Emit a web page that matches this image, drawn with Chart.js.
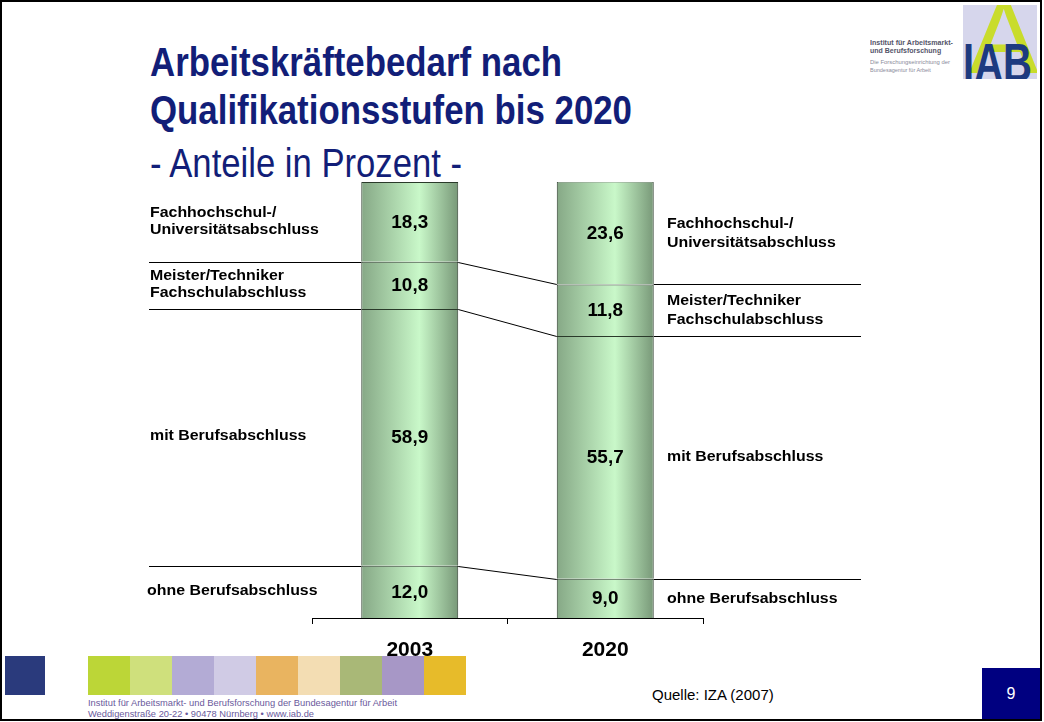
<!DOCTYPE html>
<html><head><meta charset="utf-8">
<script src="https://cdn.jsdelivr.net/npm/chart.js@4.4.1/dist/chart.umd.min.js"></script>
<style>
html,body{margin:0;padding:0;background:#fff;}
body{width:1044px;height:722px;position:relative;overflow:hidden;font-family:"Liberation Sans",Arial,sans-serif;}
.frame{position:absolute;left:0;top:0;width:1042px;height:721px;box-sizing:border-box;border:2px solid #000;z-index:5;pointer-events:none;}
.t{position:absolute;left:150px;white-space:nowrap;color:#121e78;transform-origin:0 0;font-size:40px;line-height:40px;}
.tb{font-family:"Liberation Sans Narrow","Liberation Sans",Arial,sans-serif;font-weight:bold;}
.sq{position:absolute;top:656px;height:39px;width:42px;}
.ft{position:absolute;left:88px;font-size:9.3px;line-height:10px;color:#6a5a9c;white-space:nowrap;transform-origin:0 0;}
#chart{position:absolute;left:0;top:0;z-index:3;}
.logo{position:absolute;left:963px;top:5px;width:74px;height:74px;background:#d6d6ec;overflow:hidden;}
.logoA{position:absolute;left:6px;top:-20px;font-size:104px;line-height:104px;color:#c9dc2c;font-family:"Liberation Sans",Arial,sans-serif;}
.logoIAB{position:absolute;left:0;top:30px;font-size:54px;line-height:54px;color:#1d3a80;transform-origin:0 0;white-space:nowrap;font-weight:bold;}
.lt{position:absolute;left:870px;white-space:nowrap;font-size:7px;line-height:8px;transform-origin:0 0;}
</style></head>
<body>
<div class="frame"></div>
<div class="t tb" data-w="412" style="top:42px;">Arbeitskräftebedarf nach</div>
<div class="t tb" data-w="482" style="top:90px;">Qualifikationsstufen bis 2020</div>
<div class="t" data-w="312" style="top:143px;font-family:'Liberation Sans Narrow','Liberation Sans',Arial,sans-serif;">- Anteile in Prozent -</div>

<div class="lt" data-w="83" style="top:39px;color:#55556a;font-weight:bold;">Institut für Arbeitsmarkt-</div>
<div class="lt" style="top:47px;color:#55556a;font-weight:bold;">und Berufsforschung</div>
<div class="lt" data-w="80" style="top:58px;color:#8a8a9a;font-size:5.5px;">Die Forschungseinrichtung der</div>
<div class="lt" style="top:66px;color:#8a8a9a;font-size:5.5px;">Bundesagentur für Arbeit</div>
<div class="logo"><div class="logoA">A</div><div class="logoIAB" data-w="69">IAB</div></div>

<div class="sq" style="left:5px;width:40px;background:#2a3a7c;"></div>
<div class="sq" style="left:88px;background:#bcd637;"></div>
<div class="sq" style="left:130px;background:#cfe07c;"></div>
<div class="sq" style="left:172px;background:#b3abd5;"></div>
<div class="sq" style="left:214px;background:#d0cbe5;"></div>
<div class="sq" style="left:256px;background:#e9b460;"></div>
<div class="sq" style="left:298px;background:#f3ddb3;"></div>
<div class="sq" style="left:340px;background:#a9b877;"></div>
<div class="sq" style="left:382px;background:#a797c6;"></div>
<div class="sq" style="left:424px;background:#e7bb2a;"></div>
<div class="ft" data-w="309" style="top:698px;">Institut für Arbeitsmarkt- und Berufsforschung der Bundesagentur für Arbeit</div>
<div class="ft" style="top:709px;">Weddigenstraße 20-22 &bull; 90478 Nürnberg &bull; www.iab.de</div>

<div style="position:absolute;left:652px;top:686px;font-size:15px;line-height:18px;color:#000;white-space:nowrap;">Quelle: IZA (2007)</div>
<div style="position:absolute;left:982px;top:668px;width:58px;height:51px;background:#000080;color:#fff;font-size:16px;line-height:51px;text-align:center;">9</div>

<canvas id="chart" width="1044" height="722"></canvas>
<script>
// ---- data ----
const categories = ['2003', '2020'];
const ohneBerufsabschluss = [12.0, 9.0];
const mitBerufsabschluss = [58.9, 55.7];
const meisterTechniker = [10.8, 11.8];
const hochschulabschluss = [18.3, 23.6];
const segmentNames = [
  ['ohne Berufsabschluss'],
  ['mit Berufsabschluss'],
  ['Meister/Techniker', 'Fachschulabschluss'],
  ['Fachhochschul-/', 'Universitätsabschluss']
];

// fit text widths
document.querySelectorAll('[data-w]').forEach(el => {
  const w = el.getBoundingClientRect().width;
  const target = parseFloat(el.dataset.w);
  if (w > 0) el.style.transform = 'scaleX(' + (target / w) + ')';
});

const FONT = '"Liberation Sans", Arial, sans-serif';
const CAT_PCT = 1.0, BAR_PCT = 0.496;

function barFill(ctx) {
  const chart = ctx.chart;
  const xs = chart.scales && chart.scales.x;
  if (!xs || !chart.chartArea) return '#b5dcb5';
  const cx = xs.getPixelForValue(ctx.dataIndex);
  const half = xs.width / categories.length * CAT_PCT * BAR_PCT / 2;
  const g = chart.ctx.createLinearGradient(cx - half, 0, cx + half, 0);
  g.addColorStop(0, '#86a886');
  g.addColorStop(0.6, '#c9f8c9');
  g.addColorStop(1, '#789878');
  return g;
}

function drawScaled(c, text, x, y, sx) {
  c.save();
  c.translate(x, y);
  c.scale(sx, 1);
  c.fillText(text, 0, 0);
  c.restore();
}

const overlay = {
  id: 'overlay',
  afterDatasetsDraw(chart) {
    const c = chart.ctx;
    const metas = chart.data.datasets.map((d, i) => chart.getDatasetMeta(i));
    c.save();
    c.fillStyle = '#000';
    c.textAlign = 'center';
    c.textBaseline = 'middle';
    c.font = 'bold 18px ' + FONT;
    metas.forEach((m, di) => {
      m.data.forEach((el, j) => {
        const v = chart.data.datasets[di].data[j];
        drawScaled(c, v.toFixed(1).replace('.', ','), el.x, (el.y + el.base) / 2 + 1, 1.05);
      });
    });
    c.strokeStyle = '#000';
    c.lineWidth = 1;
    for (let di = 0; di < metas.length - 1; di++) {
      const a = metas[di].data[0], b = metas[di].data[1];
      const ya = Math.round(a.y) + 0.5, yb = Math.round(b.y) + 0.5;
      c.beginPath();
      c.moveTo(149, ya); c.lineTo(a.x - a.width / 2, ya);
      c.moveTo(a.x + a.width / 2, ya); c.lineTo(b.x - b.width / 2, yb);
      c.moveTo(b.x + b.width / 2, yb); c.lineTo(861, yb);
      c.stroke();
    }
    c.textAlign = 'left';
    c.font = 'bold 15px ' + FONT;
    metas.forEach((m, di) => {
      const lines = segmentNames[di];
      const a = m.data[0], b = m.data[1];
      const ca = (a.y + a.base) / 2, cb = (b.y + b.base) / 2;
      lines.forEach((t, k) => {
        drawScaled(c, t, di === 0 ? 147 : 150, ca - 1 + (k - (lines.length - 1) / 2) * 17, 1.06);
        drawScaled(c, t, 667, cb + (k - (lines.length - 1) / 2) * 19, 1.06);
      });
    });
    c.restore();
  }
};

const dsCommon = {
  backgroundColor: barFill,
  borderColor: '#2a3a2a',
  borderWidth: {top: 1, left: 1, right: 1, bottom: 0},
  borderSkipped: false,
  categoryPercentage: CAT_PCT,
  barPercentage: BAR_PCT
};

new Chart(document.getElementById('chart'), {
  type: 'bar',
  data: {
    labels: categories,
    datasets: [
      Object.assign({label: segmentNames[0].join(' '), data: ohneBerufsabschluss}, dsCommon),
      Object.assign({label: segmentNames[1].join(' '), data: mitBerufsabschluss}, dsCommon),
      Object.assign({label: segmentNames[2].join(' '), data: meisterTechniker}, dsCommon),
      Object.assign({label: segmentNames[3].join(' '), data: hochschulabschluss}, dsCommon)
    ]
  },
  options: {
    responsive: false,
    animation: false,
    layout: {padding: {left: 312, right: 341, top: 182, bottom: 0}},
    plugins: {legend: {display: false}, tooltip: {enabled: false}, title: {display: false}},
    scales: {
      x: {
        stacked: true,
        offset: true,
        grid: {display: true, offset: true, drawOnChartArea: false, drawTicks: true, tickLength: 6, color: '#000', lineWidth: 1},
        border: {display: true, color: '#000', width: 1},
        ticks: {color: '#000', font: {family: FONT, size: 21, weight: 'bold'}, padding: 14},
        afterFit(s) { s.height = 104; }
      },
      y: {stacked: true, display: false, min: 0, max: 100}
    }
  },
  plugins: [overlay]
});
</script>
</body></html>
